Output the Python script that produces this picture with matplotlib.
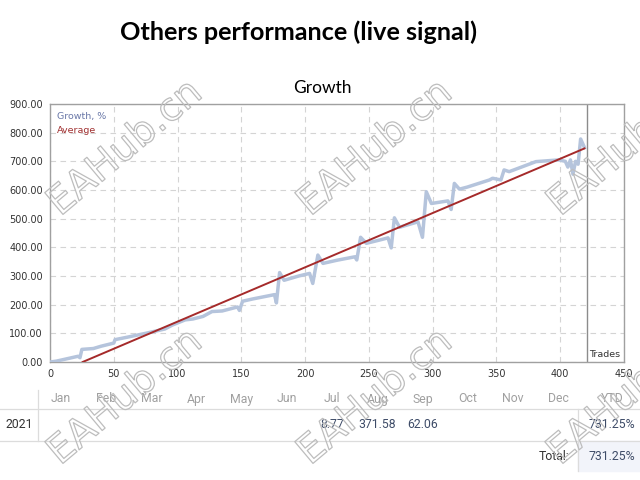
import matplotlib
matplotlib.use("Agg")
import matplotlib.pyplot as plt
import matplotlib.patheffects as pe
from matplotlib.patches import Rectangle

# growth curve (trade number, growth %)
trades = [0, 5, 12, 22, 23.5, 25, 34, 40, 50, 51, 60, 75, 90, 96, 106, 112, 120, 127,
          135, 147, 148.5, 151, 159, 176, 177.5, 180, 183.5, 195, 203.5, 206, 210, 214,
          225, 239, 240.5, 243.5, 248, 258, 265, 267.5, 270, 274, 288.5, 292, 295, 299,
          312, 314.5, 317, 321, 327, 344.5, 347, 353.5, 356, 360, 381, 399, 404, 406,
          408, 410, 412, 414, 416, 419]
growth = [0, 3, 10, 20, 15, 44, 47, 55, 66, 78, 86, 100, 115, 129, 147, 150, 159, 176,
          178, 192, 180, 212, 220, 235, 206, 312, 285, 300, 309, 274, 373, 344,
          355, 367, 356, 435, 414, 425, 433, 398, 503, 470, 489, 435, 594, 553,
          562, 532, 623, 603, 610, 635, 641, 635, 670, 664, 699, 705, 700, 680,
          705, 655, 700, 690, 778, 748]

avg_x = [25.6, 419]
avg_y = [0, 745]
last_trade = 421

months = ["Jan", "Feb", "Mar", "Apr", "May", "Jun", "Jul", "Aug", "Sep", "Oct", "Nov", "Dec"]
year = "2021"
month_vals = {"Jul": "8.77", "Aug": "371.58", "Sep": "62.06"}
ytd = "731.25%"
total = "731.25%"

W, H = 640, 480
fig = plt.figure(figsize=(6.4, 4.8), dpi=100)


def fx(x):
    return x / W


def fy(y):
    return 1 - y / H


ax = fig.add_axes([fx(50), fy(362), fx(624) - fx(50), fy(104) - fy(362)])
ax.plot(trades, growth, color="#b5c4dc", lw=2.5, solid_joinstyle="round", zorder=3)
ax.plot(avg_x, avg_y, color="#a52a2a", lw=1.4, zorder=4)
ax.axvline(last_trade, color="#8c8c8c", lw=1.0, zorder=2)

ax.set_xlim(0, 450)
ax.set_ylim(0, 900)
ax.set_xticks(range(0, 451, 50))
ax.set_yticks(range(0, 901, 100))
ax.set_yticklabels(["%.2f" % v for v in range(0, 901, 100)])
ax.tick_params(length=0, labelsize=7, colors="#333333", pad=5)
ax.grid(True, ls=(0, (5, 4)), color="#d4d4d4", lw=0.8)
for s in ax.spines.values():
    s.set_color("#a0a0a0")
    s.set_linewidth(1.0)

ax.text(0.012, 0.97, "Growth, %", transform=ax.transAxes, fontsize=6.8,
        color="#6a78a8", va="top")
ax.text(0.012, 0.913, "Average", transform=ax.transAxes, fontsize=6.8,
        color="#a03030", va="top")
ax.text(last_trade + 1.5, 12, "Trades", fontsize=6.8, color="#333333", va="bottom")

fig.text(fx(299), fy(32), "Others performance (live signal)", family="Lato",
         weight="bold", fontsize=18.2, ha="center", va="center", color="black")
fig.text(fx(322), fy(88), "Growth", family="Lato", fontsize=12.5,
         ha="center", va="center", color="black")

# monthly table
col_x = [61 + 45.2 * i for i in range(12)]
tfont = dict(family="Roboto", fontsize=8.8, va="center")
for m, x in zip(months, col_x):
    fig.text(fx(x), fy(399), m, ha="center", color="#a0a0a0", **tfont)
    if m in month_vals:
        fig.text(fx(x), fy(425), month_vals[m], ha="center", color="#3e4c68", **tfont)
fig.text(fx(612), fy(399), "YTD", ha="center", color="#a0a0a0", **tfont)
fig.text(fx(5), fy(425), year, ha="left", color="#333333", **tfont)
fig.text(fx(612), fy(425), ytd, ha="center", color="#3e4c68", **tfont)
fig.text(fx(569), fy(456), "Total:", ha="right", color="#333333", **tfont)

fig.patches.append(Rectangle((fx(578), fy(471)), fx(640) - fx(578), fy(441) - fy(471),
                             transform=fig.transFigure, color="#f2f4fa", zorder=0))
fig.text(fx(612), fy(456), total, ha="center", color="#3e4c68", **tfont)
for y in [409, 441]:
    fig.add_artist(plt.Line2D([0, 1], [fy(y), fy(y)], color="#dcdcdc", lw=0.9))
fig.add_artist(plt.Line2D([fx(38), fx(38)], [fy(390), fy(441)], color="#dcdcdc", lw=0.9))
fig.add_artist(plt.Line2D([fx(578), fx(578)], [fy(409), fy(471)], color="#dcdcdc", lw=0.9))

# watermarks (the right-hand column runs off the edge, as in the source image)
for cx in [125, 375, 625]:
    for cy in [148, 397]:
        fig.text(fx(cx), fy(cy), "EAHub.cn", fontsize=28, rotation=40,
                 ha="center", va="center", color="none", zorder=10,
                 path_effects=[pe.withStroke(linewidth=0.9, foreground="#bdbdbd")])

fig.savefig("out.png", dpi=100)
